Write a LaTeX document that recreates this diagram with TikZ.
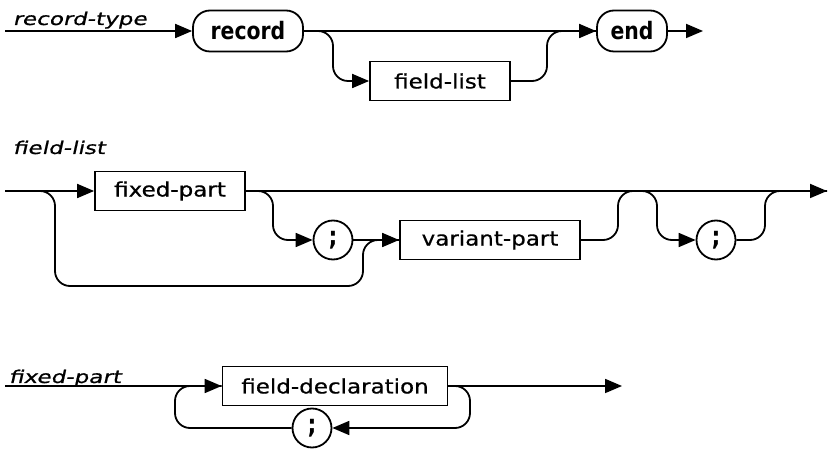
\documentclass[tikz,border=0pt]{standalone}
\usepackage{fontspec}
\setmainfont[FakeStretch=1.15,FakeBold=0.6]{DejaVu Sans}
\newfontfamily\keyfont[FakeStretch=0.85]{DejaVu Sans}
\newfontfamily\lblfont[FakeStretch=1.32,FakeSlant=0.22,FakeBold=0.8]{DejaVu Sans}
\usetikzlibrary{arrows.meta}

\begin{document}
\begin{tikzpicture}[x=1pt, y=-1pt, line width=1.8pt,
  >={Triangle[length=17pt,width=14pt]}]

\tikzstyle{box} = [rectangle, draw, minimum height=39pt, inner sep=0pt, font=\fontsize{20}{24}\selectfont]
\tikzstyle{key} = [rectangle, draw, rounded corners=17pt, minimum height=41pt, inner sep=0pt, font=\keyfont\bfseries\fontsize{24}{27}\selectfont]
\tikzstyle{semi} = [circle, draw, minimum size=39pt, inner sep=0pt, font=\keyfont\bfseries\fontsize{26}{29}\selectfont]
\tikzstyle{lbl} = [anchor=base west, inner sep=0pt, font=\lblfont\fontsize{17.5}{20}\selectfont]
\tikzstyle{link} = [rounded corners=15pt]

\useasboundingbox (0,0) rectangle (828,454);

% record-type
\node[lbl] (rtl) at (12,25) {record-type};
\coordinate (rts) at (5,31);
\node[key, minimum width=110pt] (rec) at (248,31) {record};
\node[box, minimum width=140pt] (flb) at (440,81) {field-list};
\node[key, minimum width=70pt] (end) at (632,31) {end};
\coordinate (rte) at (703,31);

\draw[->] (rts) -- (rec);
\draw[->] (rec) -- (end);
\draw[->, link] (rec.east) -| (333,81) -- (flb.west);
\draw[link] (flb.east) -| (547,31) -- (end.west);
\draw[->] (end) -- (rte);

% field-list
\node[lbl] (fll) at (12,154) {field-list};
\coordinate (fls) at (5,191);
\node[box, minimum width=150pt] (fp) at (170,191) {fixed-part};
\node[semi] (sc1) at (333,240) {;};
\node[box, minimum width=180pt] (vp) at (490,240) {variant-part};
\node[semi] (sc2) at (716,240) {;};
\coordinate (fle) at (827,191);

\draw[->] (fls) -- (fp);
\draw[->] (fp) -- (fle);
\draw[link] (fls) -| (55,286) -| (363,240) -- (vp.west);
\draw[->, link] (fp.east) -| (273,240) -- (sc1);
\draw[->] (sc1) -- (vp);
\draw[->, link] (vp.east) -| (618,191) -| (657,240) -- (sc2);
\draw[link] (sc2.east) -| (765,191) -- (fle);

% fixed-part
\node[lbl] (fpl) at (8,383) {fixed-part};
\coordinate (fps) at (5,386);
\node[box, minimum width=225pt] (fd) at (335,386) {field-declaration};
\node[semi] (sc3) at (312,428) {;};
\coordinate (fpe) at (622,386);

\draw[->] (fps) -- (fd);
\draw[->] (fd) -- (fpe);
\draw[->, link] (fd.east) -| (470,428) -- (sc3);
\draw[link] (sc3.west) -| (175,386) -- (fd.west);
\end{tikzpicture}
\end{document}
